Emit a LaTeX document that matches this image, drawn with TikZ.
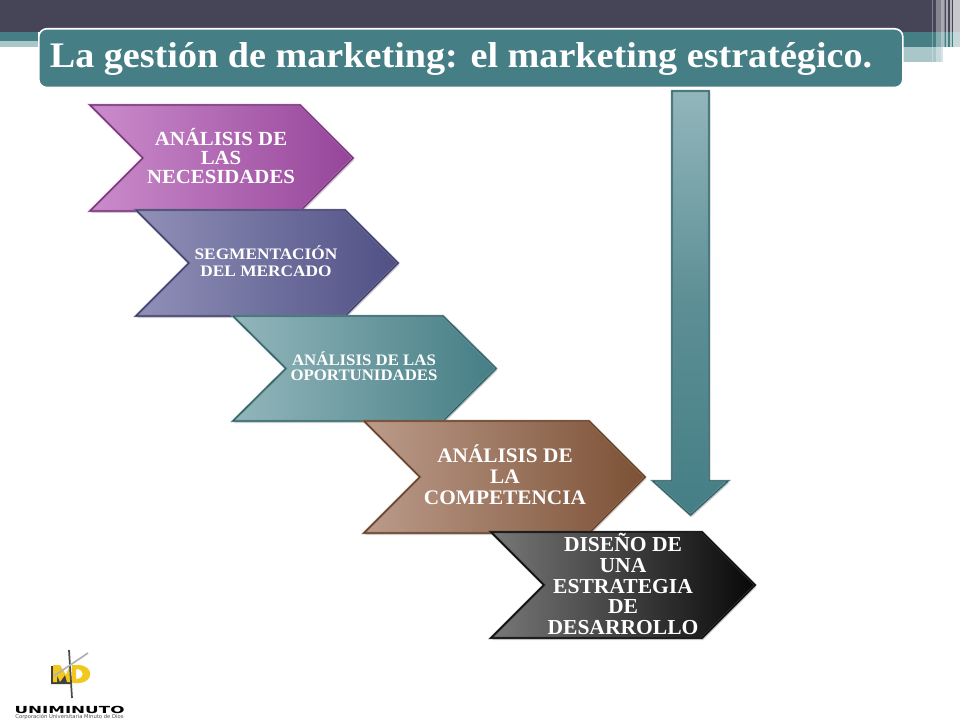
\documentclass[tikz,border=0pt]{standalone}
\usepackage{fontspec}
\setmainfont{Liberation Serif}
\newfontfamily\logofont{DejaVu Sans}
\usepackage{tikz}
\usetikzlibrary{shadows}
\definecolor{banda}{HTML}{454557}
\definecolor{verde}{HTML}{457E85}
\definecolor{verdeclaro}{HTML}{A9C6C9}
\definecolor{logoamarillo}{HTML}{F2C81E}
\definecolor{moradoa}{HTML}{CB8CCB}
\definecolor{moradob}{HTML}{96459A}
\definecolor{azula}{HTML}{9090B8}
\definecolor{azulb}{HTML}{505085}
\definecolor{verdea}{HTML}{92B6BB}
\definecolor{cafea}{HTML}{BC9B8B}
\definecolor{cafeb}{HTML}{7C5135}
\definecolor{grisa}{HTML}{787878}
\definecolor{grisb}{HTML}{080808}
\tikzstyle{mychevron} = [line join=miter, draw=#1!85!white, line width=.65pt, double=#1!60!black, double distance=.45pt, drop shadow={shadow xshift=1pt, shadow yshift=-1.5pt, opacity=.3}]
\tikzstyle{mylabel} = [align=center, text=white, inner sep=0pt]
\tikzstyle{stripe} = [white, opacity=#1]
\tikzset{x=.75pt, y=-.75pt}
% arriba-izq, punta derecha, ancho de la punta, colores
\newcommand{\chevron}[8]{%
\path[mychevron=#6, left color=#7, right color=#8] (#1,#2) -- (#3-#5,#2) -- (#3,{(#2+#4)/2}) -- (#3-#5,#4) -- (#1,#4) -- (#1+#5,{(#2+#4)/2}) -- cycle;
}
\begin{document}
\begin{tikzpicture}
\useasboundingbox (0,0) rectangle (960,720);
\fill[white] (0,0) rectangle (960,720);
% banda superior
\fill[banda] (0,0) rectangle (960,32);
\fill[verde] (0,32) rectangle (38,41);
\fill[verdeclaro] (0,41) rectangle (38,47);
\fill[verde] (900,32) rectangle (960,47);
\fill[verdeclaro] (900,47) rectangle (943,62);
\fill[stripe=.3] (932,0) rectangle (933,65);
\fill[stripe=.35] (936,0) rectangle (945,65);
\fill[stripe=.3] (941,0) rectangle (944,65);
\fill[stripe=.55] (946,0) rectangle (948,65);
\fill[stripe=.6] (950,0) rectangle (952,65);
\fill[stripe=.7] (953,0) rectangle (960,65);
% titulo
\node[draw=white, fill=verde, line width=1.2pt, rounded corners=6pt, minimum width=648pt, minimum height=44pt, inner sep=0pt, anchor=north west] (titulo) at (38,28) {};
\node[anchor=center, text=white, font=\bfseries\fontsize{27}{27}\selectfont, inner sep=0pt, xscale=1.06] (textotitulo) at (461,59) {La gestión de marketing: el marketing estratégico.};
% flechas
\chevron{90}{105}{353}{211}{53}{moradob}{moradoa}{moradob}
\chevron{136}{210}{398}{316}{53}{azulb}{azula}{azulb}
\chevron{233}{316}{496}{421}{53}{verde}{verdea}{verde}
\chevron{364}{421}{645}{533}{56}{cafeb}{cafea}{cafeb}
\chevron{491}{532}{755}{638}{53}{grisb}{grisa}{grisb}
\node[mylabel, font=\bfseries\fontsize{15}{13.9}\selectfont, xscale=1.04] (necesidades) at (221,156) {ANÁLISIS DE\\LAS\\NECESIDADES};
\node[mylabel, font=\bfseries\fontsize{12}{12.7}\selectfont, xscale=1.08] (segmentacion) at (266,261) {SEGMENTACIÓN\\DEL MERCADO};
\node[mylabel, font=\bfseries\fontsize{12}{11.5}\selectfont, xscale=1.05] (oportunidades) at (364,366) {ANÁLISIS DE LAS\\OPORTUNIDADES};
\node[mylabel, font=\bfseries\fontsize{15.5}{15.9}\selectfont, xscale=1.03] (competencia) at (505,475) {ANÁLISIS DE\\LA\\COMPETENCIA};
\node[mylabel, font=\bfseries\fontsize{16}{15.4}\selectfont, xscale=1.01] (estrategia) at (623,584) {DISEÑO DE\\UNA\\ESTRATEGIA\\DE\\DESARROLLO};
% flecha vertical
\path[mychevron=verde, top color=verdea, bottom color=verde, middle color=verde!70!verdea] (672,91) -- (709,91) -- (709,481) -- (728,481) -- (690.5,515) -- (653,481) -- (672,481) -- cycle;
% logo
\fill[black!75] (51,684) -- (51,666) -- (60,666) -- (66,676) -- (70,666) -- (72,684) -- cycle;
\fill[logoamarillo] (53,682) -- (53,665) -- (60,665) -- (66,675) -- (70,665) -- (72,682) -- (67,682) -- (65,675) -- (60,682) -- (57,675) -- (57,682) -- cycle;
\fill[logoamarillo,even odd rule] (72,665) -- (79,665) .. controls (94,666) and (94,682) .. (79,683) -- (72,683) -- cycle (76,669) -- (76,679) .. controls (85,679) and (85,669) .. (76,669) -- cycle;
\draw[black!70, line width=1.3pt] (69,650) -- (72,698);
\draw[black!30, line width=1.3pt] (54,676) -- (88,653);
\node[inner sep=0pt, font=\logofont\bfseries\fontsize{7.3}{8}\selectfont, xscale=1.72, text=black, anchor=center] (uniminuto) at (69.5,710) {UNIMINUTO};
\node[inner sep=0pt, font=\logofont\fontsize{3.95}{4}\selectfont, text=black!70, anchor=center] (corporacion) at (69.5,717) {Corporación Universitaria Minuto de Dios};
\end{tikzpicture}
\end{document}
